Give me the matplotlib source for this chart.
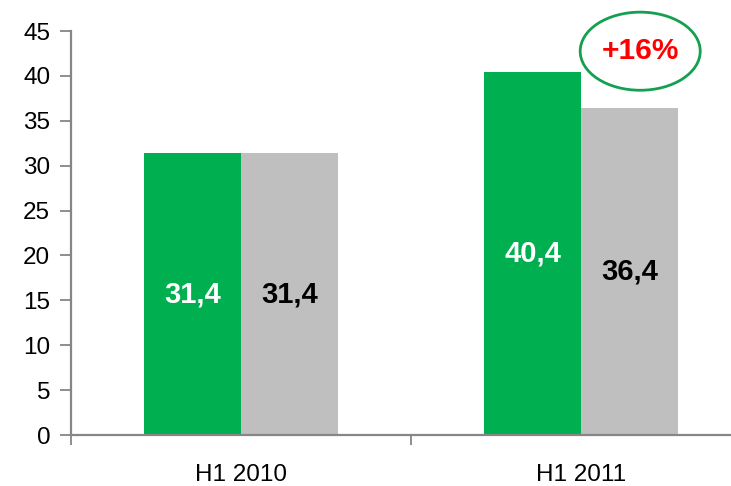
import matplotlib
matplotlib.use("Agg")
import matplotlib.pyplot as plt
from matplotlib.patches import Ellipse
import numpy as np

plt.rcParams['font.family'] = ['Liberation Sans', 'DejaVu Sans']

categories = ["H1 2010", "H1 2011"]
series_green = [31.4, 40.4]
series_gray = [31.4, 36.4]
labels_green = ["31,4", "40,4"]
labels_gray = ["31,4", "36,4"]
growth_label = "+16%"

W, H = 731, 486
fig = plt.figure(figsize=(W/100, H/100), dpi=100)
ax = fig.add_axes([71/W, (H-435)/H, (W-71)/W, 404/H])

x = np.arange(len(categories))
bw = 0.285
gb = ax.bar(x - bw/2, series_green, width=bw, color='#00B050', zorder=2)
rb = ax.bar(x + bw/2, series_gray, width=bw, color='#BFBFBF', zorder=2)

for rect, lab in zip(gb, labels_green):
    ax.text(rect.get_x() + rect.get_width()/2, rect.get_height()/2, lab,
            ha='center', va='center', color='white', fontsize=21, fontweight='bold')
for rect, lab in zip(rb, labels_gray):
    ax.text(rect.get_x() + rect.get_width()/2, rect.get_height()/2, lab,
            ha='center', va='center', color='black', fontsize=21, fontweight='bold')

ax.set_yticks(np.arange(0, 46, 5))
ax.set_xticks(x)
ax.set_xticklabels(categories)
ax.set_xticks([-0.5, 0.5, 1.5], minor=True)
ax.set_ylim(0, 45)
ax.set_xlim(-0.5, 1.441)

for s in ['top', 'right']:
    ax.spines[s].set_visible(False)
for s in ['left', 'bottom']:
    ax.spines[s].set_color('#868686')
    ax.spines[s].set_linewidth(1.6)

ax.tick_params(axis='y', which='major', direction='out', length=8, width=1.3,
               color='#868686', labelsize=17.5, pad=7)
ax.tick_params(axis='x', which='major', length=0, labelsize=17.5, pad=21)
ax.tick_params(axis='x', which='minor', direction='out', length=7, width=1.3, color='#868686')

ell = Ellipse((1.174, 42.75), 0.353, 8.7, fill=False, edgecolor='#14A050',
              linewidth=2, clip_on=False, zorder=3)
ax.add_patch(ell)
ax.text(1.174, 42.75, growth_label, ha='center', va='center', color='#FF0000',
        fontsize=21.5, fontweight='bold', clip_on=False, zorder=4)

fig.savefig("out.png", dpi=100)
